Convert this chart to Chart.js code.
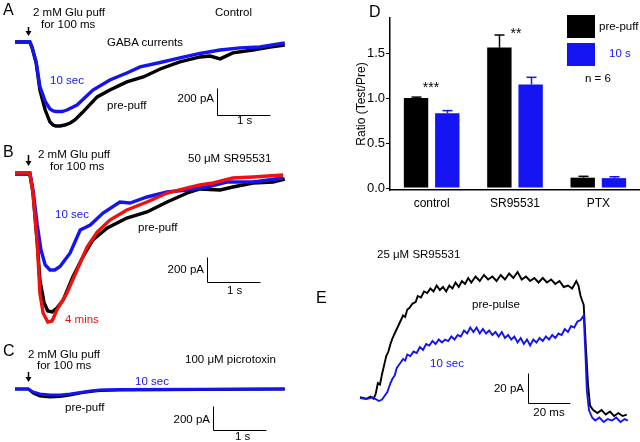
<!DOCTYPE html>
<html><head><meta charset="utf-8">
<script src="https://cdn.jsdelivr.net/npm/chart.js@4.4.0/dist/chart.umd.min.js"></script>
<style>
html,body{margin:0;padding:0;background:#fff;}
#wrap{position:relative;width:640px;height:442px;overflow:hidden;font-family:"Liberation Sans",Arial,sans-serif;}
canvas{position:absolute;}
.t{position:absolute;white-space:nowrap;line-height:1;color:#000;}
.sq{position:absolute;}
</style></head><body><div id="wrap">
<canvas id="cA"></canvas><canvas id="cB"></canvas><canvas id="cC"></canvas><canvas id="cE"></canvas><canvas id="cD"></canvas>
</div>
<script>
// ---------- Panel A (time s, current pA) ----------
const aTimePre = [0,0.28,0.32,0.40,0.47,0.57,0.66,0.72,0.77,0.85,0.94,1.04,1.13,1.28,1.55,1.79,2.11,2.42,2.74,3.11,3.49,3.68,3.87,4.11,4.49,4.81,5.09];
const aPre     = [0,0,-37,-156,-356,-504,-593,-615,-622,-622,-615,-600,-578,-519,-407,-356,-296,-259,-200,-148,-111,-104,-125,-81,-59,-37,-22];
const aTime10  = [0,0.28,0.32,0.40,0.47,0.57,0.66,0.72,0.77,0.89,0.98,1.17,1.47,1.79,2.11,2.36,2.74,3.11,3.49,3.87,4.25,4.62,5.09];
const a10      = [0,0,-37,-150,-330,-440,-496,-511,-515,-515,-504,-467,-356,-281,-230,-185,-152,-118,-85,-59,-44,-37,-7];
// ---------- Panel B ----------
const bTimePre = [0,0.28,0.34,0.42,0.47,0.55,0.62,0.70,0.79,0.91,1.09,1.28,1.47,1.74,2.11,2.49,2.87,3.25,3.49,3.87,4.11,4.49,4.87,5.09];
const bPre     = [-8,-8,-160,-560,-856,-1040,-1104,-1112,-1080,-1016,-832,-672,-536,-440,-360,-312,-232,-160,-128,-136,-112,-80,-72,-48];
const bTime10  = [0,0.28,0.34,0.42,0.49,0.57,0.66,0.75,0.85,1.04,1.23,1.42,1.66,1.98,2.17,2.49,2.87,3.25,3.62,4.00,4.49,5.06];
const b10      = [0,0,-136,-416,-616,-736,-776,-776,-748,-640,-456,-416,-320,-232,-240,-192,-152,-136,-112,-72,-72,-40];
const bTime4m  = [0,0.28,0.34,0.42,0.47,0.53,0.62,0.70,0.79,0.98,1.17,1.36,1.55,1.79,2.11,2.49,2.87,3.25,3.49,3.74,4.11,4.49,5.06];
const b4m      = [0,0,-160,-560,-960,-1120,-1192,-1184,-1096,-960,-776,-592,-472,-376,-296,-232,-160,-120,-96,-80,-40,-32,-16];
// ---------- Panel C ----------
const cTime = [0,0.25,0.34,0.47,0.66,0.85,1.04,1.23,1.42,1.60,1.98,5.09];
const cPre  = [0,0,-33,-58,-67,-62,-50,-33,-21,-12,-8,0];
const c10   = [0,0,-25,-42,-50,-50,-42,-29,-17,-8,-4,0];
// ---------- Panel D (ratio test/pre) ----------
const groups   = ['control','SR95531','PTX'];
const preRatio = [1.00,1.56,0.115];
const preErr   = [0.01,0.14,0.015];
const tenRatio = [0.83,1.15,0.11];
const tenErr   = [0.03,0.08,0.015];
const ratioTicks = [0,0.5,1.0,1.5];
// ---------- Panel E (time ms, current pA) ----------
const eTimePre = [0,3,5,6.5,7.5,8.5,9.5,10.5,11.5,12.5,13.5,14.5,15.5,16.5,17.5,18.5,19.5,20.5,21.5,22.5,23.5,25,26.5,27.5,29,30.5,32,33.5,35,36.5,38,39.5,41,42.5,44,45.5,47,48.5,50,51.5,53,55,57,59,61,63,65,67,69,71,73,75,77,79,81,83,85,87,89,91,93,95,97,99,101,103,104,105,106.5,107.5,108.5,109.5,111,113,115,117,119,121,123,125,127];
const ePre     = [0.5,-0.5,1,-0.5,3,10,9,16,22,28,31,36,40,43,46,49,52,55,54,59,60,63,64,68,67,71,70,73,71,75,72,74,71,75,73,77,74,78,76,80,77,81,78,82,79,81,78,82,79,83,80,84,79,81,78,80,77,80,77,79,76,78,74,75,73,78,75,68,62,35,10,-5,-8,-10,-8,-11,-9,-12,-10,-12,-11];
const eTime10  = [0,3,6,9,10.5,11.5,13,14.5,15.5,16.5,17.5,18.5,19.5,20.5,21.5,22.5,24,25.5,27,28.5,30,31.5,33,34.5,36,37.5,39,40.5,42,43.5,45,46.5,48,49.5,51,52.5,54,55.5,57,58.5,60,61.5,63,64.5,66,67.5,69,70.5,72,73.5,75,76.5,78,79.5,81,82.5,84,85.5,87,88.5,90,91.5,93,94.5,96,97.5,99,100.5,102,103.5,105,106.5,107.3,108,109,110.5,112,114,116,118,120,122,124,126,127.5];
const e10      = [0,-0.7,0.5,-2,-1,1,4,10,13,15,20,22,24,26,25,29,28,31,30,34,32,36,35,38,36,39,37,39,38,41,39,42,41,45,43,47,44,47,43,46,43,45,42,44,41,44,40,42,39,41,37,40,36,39,35,39,37,40,38,41,39,42,40,43,42,46,44,48,47,51,52,55,30,5,-8,-13,-15,-13,-16,-14,-15,-13,-16,-14,-15];

Chart.defaults.font.family = '"Liberation Sans", Arial, sans-serif';
const BLACK = '#000000', BLUE = '#1414f2', RED = '#f01010';

const annotPlugin = {
  id: 'annot',
  afterDatasetsDraw(chart, args, opts) {
    const ctx = chart.ctx, x = chart.scales.x, y = chart.scales.y;
    ctx.save();
    ctx.strokeStyle = '#000'; ctx.fillStyle = '#000'; ctx.lineWidth = 1;
    if (opts.bar) {
      const b = opts.bar;
      const x0 = Math.round(x.getPixelForValue(b[0])) + 0.5, y0 = Math.round(y.getPixelForValue(b[1])) + 0.5;
      const x1 = Math.round(x.getPixelForValue(b[0] + b[2])) + 0.5, y1 = Math.round(y.getPixelForValue(b[1] + b[3])) + 0.5;
      ctx.beginPath(); ctx.moveTo(x0, y1); ctx.lineTo(x0, y0); ctx.lineTo(x1, y0); ctx.stroke();
    }
    if (opts.arrow) {
      const a = opts.arrow;
      const ax = Math.round(x.getPixelForValue(a[0])) + 0.5, ya = y.getPixelForValue(a[1]), yb = y.getPixelForValue(a[2]);
      ctx.lineWidth = 1.5;
      ctx.beginPath(); ctx.moveTo(ax, ya); ctx.lineTo(ax, yb - 3); ctx.stroke();
      ctx.beginPath(); ctx.moveTo(ax - 3, yb - 5); ctx.lineTo(ax + 3, yb - 5); ctx.lineTo(ax, yb); ctx.closePath(); ctx.fill();
    }
    ctx.restore();
  }
};

function series(t, v, color, order, lw) {
  return { data: t.map((tt, i) => ({ x: tt, y: v[i] })), borderColor: color, backgroundColor: color,
    borderWidth: lw, showLine: true, pointRadius: 0, order: order, clip: false, tension: 0 };
}

function traceChart(id, box, xr, yr, sets, bar, arrow) {
  const c = document.getElementById(id);
  c.width = box[2]; c.height = box[3];
  c.style.left = box[0] + 'px'; c.style.top = box[1] + 'px';
  c.style.width = box[2] + 'px'; c.style.height = box[3] + 'px';
  return new Chart(c, {
    type: 'scatter',
    data: { datasets: sets },
    options: {
      responsive: false, animation: false, devicePixelRatio: 1,
      layout: { padding: 0 },
      plugins: { legend: { display: false }, tooltip: { enabled: false }, annot: { bar: bar, arrow: arrow } },
      scales: {
        x: { type: 'linear', display: false, min: xr[0], max: xr[1] },
        y: { type: 'linear', display: false, min: yr[0], max: yr[1] }
      }
    },
    plugins: [annotPlugin]
  });
}

traceChart('cA', [0, 0, 320, 140], [-0.283, 5.755], [-726, 311],
  [series(aTimePre, aPre, BLACK, 1, 3.4), series(aTime10, a10, BLUE, 0, 3.4)],
  [3.81, -541, 1, 200], [0.245, 111, 44]);
traceChart('cB', [0, 140, 320, 200], [-0.283, 5.755], [-1336, 264],
  [series(bTimePre, bPre, BLACK, 2, 3.4), series(bTime10, b10, BLUE, 1, 3.4), series(bTime4m, b4m, RED, 0, 3.4)],
  [3.62, -872, 1, 200], [0.245, 144, 56]);
traceChart('cC', [0, 340, 320, 102], [-0.283, 5.755], [-442, 408],
  [series(cTime, cPre, BLACK, 1, 3), series(cTime, c10, BLUE, 0, 3)],
  [3.74, -342, 1, 200], [0.245, 142, 58]);
traceChart('cE', [320, 230, 320, 212], [-19.05, 133.3], [-29.3, 112],
  [series(eTimePre, ePre, BLACK, 1, 1.9), series(eTime10, e10, BLUE, 0, 1.9)],
  [80, -3.33, 20, 20], null);

// ---------- Panel D bar chart ----------
const errPlugin = {
  id: 'errbars',
  afterDatasetsDraw(chart) {
    const ctx = chart.ctx, ys = chart.scales.y;
    ctx.save(); ctx.lineWidth = 1.5;
    chart.data.datasets.forEach((ds, i) => {
      const meta = chart.getDatasetMeta(i);
      ctx.strokeStyle = ds.borderColor;
      meta.data.forEach((bar, j) => {
        const yTop = ys.getPixelForValue(ds.data[j] + ds.err[j]);
        const bx = Math.round(bar.x) + 0.5;
        ctx.beginPath(); ctx.moveTo(bx, bar.y); ctx.lineTo(bx, yTop); ctx.stroke();
        ctx.beginPath(); ctx.moveTo(bx - 5, yTop); ctx.lineTo(bx + 5, yTop); ctx.stroke();
      });
    });
    ctx.restore();
  }
};
(function () {
  const c = document.getElementById('cD');
  c.width = 286; c.height = 215; c.style.left = '354px'; c.style.top = '0px';
  c.style.width = '286px'; c.style.height = '215px';
  new Chart(c, {
    type: 'bar',
    data: { labels: groups, datasets: [
      { label: 'pre-puff', data: preRatio, err: preErr, backgroundColor: BLACK, borderColor: BLACK, borderWidth: 0, barPercentage: 0.78, categoryPercentage: 0.75 },
      { label: '10 s', data: tenRatio, err: tenErr, backgroundColor: BLUE, borderColor: BLUE, borderWidth: 0, barPercentage: 0.78, categoryPercentage: 0.75 }
    ] },
    options: {
      responsive: false, animation: false, devicePixelRatio: 1,
      layout: { padding: { top: 18, left: 0, right: 0, bottom: 0 } },
      plugins: { legend: { display: false }, tooltip: { enabled: false } },
      scales: {
        x: { grid: { display: false, drawTicks: false }, border: { display: true, color: '#000', width: 1.5 },
             ticks: { color: '#000', font: { size: 12 }, padding: 6 },
             afterFit(s) { s.height = 25; } },
        y: { min: -0.022, max: 1.889,
             afterBuildTicks(s) { s.ticks = ratioTicks.map(v => ({ value: v })); },
             ticks: { color: '#000', font: { size: 13 }, padding: 1, callback: v => Number(v).toFixed(1) },
             grid: { drawOnChartArea: false, drawTicks: true, tickLength: 4, color: '#000' },
             border: { display: true, color: '#000', width: 1.5 },
             title: { display: true, text: 'Ratio (Test/Pre)', color: '#000', font: { size: 12 }, padding: 0 },
             afterFit(s) { s.width = 36; } }
      }
    },
    plugins: [errPlugin]
  });
})();

// ---------- Text labels ----------
const texts = [
  ['A', 3, 10, 16, BLACK, 'l'],
  ['2 mM Glu puff', 33, 13, 11.5, BLACK, 'l'], ['for 100 ms', 41, 25, 11.5, BLACK, 'l'],
  ['Control', 215, 13, 11.5, BLACK, 'l'], ['GABA currents', 107, 43, 11.5, BLACK, 'l'],
  ['10 sec', 50, 81, 11.5, BLUE, 'l'], ['pre-puff', 107, 106, 11.5, BLACK, 'l'],
  ['200 pA', 214, 99, 11.5, BLACK, 'r'], ['1 s', 237, 121, 11.5, BLACK, 'l'],
  ['B', 3, 152, 16, BLACK, 'l'],
  ['2 mM Glu puff', 38, 155, 11.5, BLACK, 'l'], ['for 100 ms', 50, 167, 11.5, BLACK, 'l'],
  ['50 \u03bcM SR95531', 188, 159, 11.5, BLACK, 'l'],
  ['10 sec', 55, 215, 11.5, BLUE, 'l'], ['pre-puff', 138, 228, 11.5, BLACK, 'l'],
  ['200 pA', 204, 270, 11.5, BLACK, 'r'], ['1 s', 227, 291, 11.5, BLACK, 'l'],
  ['4 mins', 65, 320, 11.5, RED, 'l'],
  ['C', 3, 351, 16, BLACK, 'l'],
  ['2 mM Glu puff', 28, 355, 11.5, BLACK, 'l'], ['for 100 ms', 37, 366, 11.5, BLACK, 'l'],
  ['100 \u03bcM picrotoxin', 185, 360, 11.5, BLACK, 'l'],
  ['10 sec', 135, 382, 11.5, BLUE, 'l'], ['pre-puff', 65, 408, 11.5, BLACK, 'l'],
  ['200 pA', 210, 420, 11.5, BLACK, 'r'], ['1 s', 235, 437, 11.5, BLACK, 'l'],
  ['D', 369, 12, 16, BLACK, 'l'],
  ['***', 431, 87, 14, BLACK, 'c'], ['**', 516, 33, 14, BLACK, 'c'],
  ['pre-puff', 599, 27, 11.5, BLACK, 'l'], ['10 s', 609, 54, 11.5, BLUE, 'l'], ['n = 6', 585, 79, 11.5, BLACK, 'l'],
  ['E', 316, 298, 16, BLACK, 'l'],
  ['25 \u03bcM SR95531', 377, 255, 11.5, BLACK, 'l'],
  ['pre-pulse', 472, 305, 11.5, BLACK, 'l'], ['10 sec', 430, 364, 11.5, BLUE, 'l'],
  ['20 pA', 524, 389, 11.5, BLACK, 'r'], ['20 ms', 549, 413, 11.5, BLACK, 'c']
];
const wrap = document.getElementById('wrap');
texts.forEach(([s, x, y, size, color, al]) => {
  const d = document.createElement('div');
  d.className = 't'; d.textContent = s;
  d.style.left = x + 'px'; d.style.top = y + 'px'; d.style.fontSize = size + 'px'; d.style.color = color;
  d.style.transform = al === 'r' ? 'translate(-100%,-50%)' : al === 'c' ? 'translate(-50%,-50%)' : 'translate(0,-50%)';
  wrap.appendChild(d);
});
// legend swatches for panel D
[[567, 15, BLACK], [567, 43, BLUE]].forEach(([x, y, col]) => {
  const d = document.createElement('div'); d.className = 'sq';
  d.style.left = x + 'px'; d.style.top = y + 'px'; d.style.width = '28px'; d.style.height = '23px'; d.style.background = col;
  wrap.appendChild(d);
});
</script></body></html>
